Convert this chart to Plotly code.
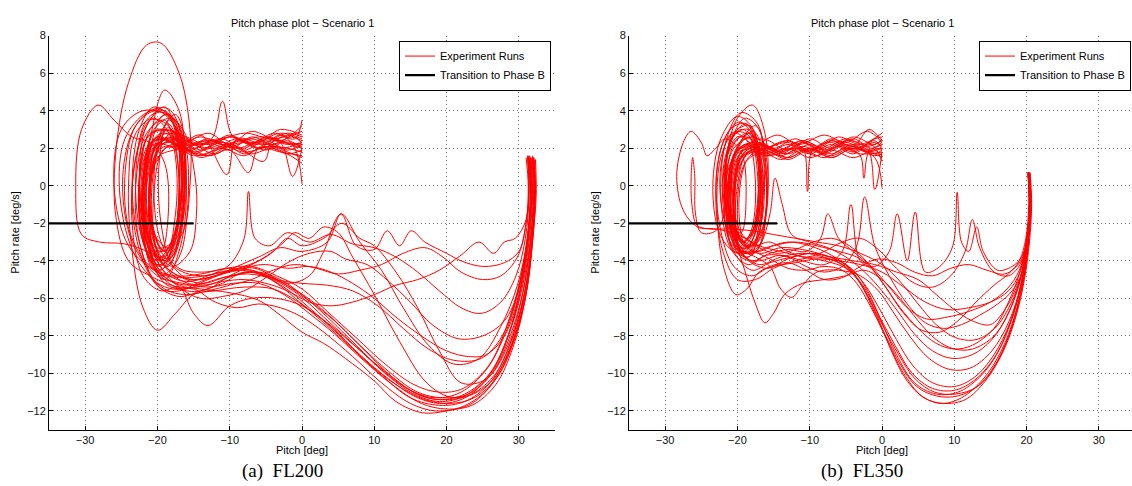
import plotly.graph_objects as go

# ---------------- data: FL200 experiment runs (pitch [deg], pitch rate [deg/s]) ----------------
fl200_run01 = [(32.3,1.4),(32.4,-0.5),(32.0,-2.5),(31.1,-5.5),(29.5,-8.0),(27,-10.2),(23.5,-11.6),(20,-12.0),(16.7,-12.1),(13,-11.5),(10,-10.4),(6,-9.2),(3,-8.4),(0,-7.8),(-3,-6.9),(-6,-6.1),(-10,-5.7),(-14,-5.5),(-17,-5.3),(-20,-4.5),(-22,-2),(-22,1),(-20,3),(-17.5,2.5),(-17,0),(-18,-3),(-20.5,-4),(-22.5,-1.5),(-21.5,2),(-18.5,2.8),(-15,2.2),(-12,2.0),(-9,2.5),(-6,2.0),(-3,2.3),(0,2.1)]
fl200_run02 = [(31.9,1.6),(32.1,0),(31.7,-2.5),(30.7,-5),(29,-7.5),(26.5,-9.8),(23,-11.2),(19.5,-11.6),(16,-11.3),(12,-10.3),(8,-9.0),(4,-7.5),(0,-6.3),(-3.5,-5.2),(-7,-4.5),(-10,-4.6),(-13,-5.0),(-16,-5.5),(-19,-5.2),(-21.5,-3),(-22.5,0),(-21,3),(-18.5,3.8),(-16.5,2),(-16.5,-1.5),(-18,-4),(-20.5,-4.5),(-22,-1.5),(-21,1.8),(-18.5,2.5),(-16,1.8),(-13,2.3),(-10,1.9),(-7,2.6),(-4,2.2),(-1.5,2.6),(0,2.4)]
fl200_run03 = [(31.6,1.5),(31.8,-0.5),(31.3,-3),(30.2,-5.5),(28.5,-8),(26,-10),(22.5,-11.2),(19,-11.5),(15.5,-11.1),(11.5,-10),(7.5,-8.5),(3.5,-7),(0,-5.8),(-3,-5),(-6,-4.6),(-9.5,-4.8),(-13,-5.3),(-17,-5.4),(-21,-4.8),(-24,-4),(-25.8,-1.5),(-25.7,2),(-24,5.5),(-21.5,7.5),(-19.5,7.6),(-17,6),(-15.5,3),(-15.5,0),(-16.5,-2.5),(-19,-3.5),(-21,-1.5),(-20.5,1.5),(-18,2.8),(-14,2.2),(-10,2.6),(-6,2.2),(-2,2.8),(0,2.6)]
fl200_run04 = [(32.0,1.5),(32.2,-0.5),(31.8,-3),(30.9,-5.5),(29.2,-8),(26.8,-10),(23.5,-11.1),(20,-11.4),(16.5,-11.2),(12.5,-10.2),(8.5,-8.7),(4.5,-7.2),(0.5,-6),(-3,-5.1),(-6.5,-4.6),(-10,-4.8),(-14,-5.2),(-18,-4.6),(-21,-3.6),(-24.5,-3.1),(-28,-3.0),(-30.5,-2.6),(-31.3,0),(-30.5,3),(-28.2,4.3),(-26,3.5),(-23.5,2.6),(-21,2.3),(-19,1.2),(-18.5,-1.5),(-19.5,-3.5),(-21.5,-2.5),(-22,0.5),(-20,2.6),(-17,2.1),(-13,2.4),(-9,2.0),(-5,2.5),(-2,2.2),(0,2.3)]
fl200_run05 = [(31.4,1.6),(31.6,-0.5),(31.1,-3),(30,-5.5),(28.2,-7.8),(25.5,-9.8),(22,-11),(18.5,-11.3),(15,-10.9),(11,-9.8),(7,-8.4),(3,-7),(-0.5,-5.8),(-4,-5),(-7.5,-4.7),(-11,-4.9),(-15,-5.3),(-18.5,-5),(-21,-3.5),(-22,-0.5),(-21,2.5),(-19,5.1),(-17,4),(-16.2,1),(-16.8,-2),(-18.5,-4.3),(-20.5,-3.5),(-21.2,-0.5),(-20,2.2),(-17.5,2.5),(-14,1.9),(-11,2.2),(-8,2.0),(-5,2.6),(-2,2.3),(0,2.2)]
fl200_run06 = [(32.1,1.3),(32.2,-1),(31.7,-3.5),(30.6,-6),(28.7,-8.5),(26,-10.5),(22.5,-11.5),(19,-11.7),(15,-11.3),(11,-10.1),(7,-8.7),(3,-7.3),(-0.5,-6.2),(-4,-5.5),(-8,-5.4),(-12,-5.6),(-15,-5.8),(-17.5,-6.8),(-20,-7.7),(-22,-6.5),(-23.5,-3.5),(-24,0),(-23,2.8),(-20.5,3.6),(-18,2.5),(-17,0),(-17.8,-3),(-19.5,-4.5),(-21.5,-3),(-22,0.5),(-20.5,2.4),(-17,2.2),(-14,1.6),(-11,2.1),(-8,1.8),(-4,2.1),(0,1.8)]
fl200_run07 = [(31.7,1.5),(31.9,-0.5),(31.4,-3),(30.3,-5.5),(28.5,-8),(26,-10),(22.5,-11.1),(19,-11.4),(15.5,-11),(11.5,-9.9),(7.5,-8.6),(3.5,-7.3),(0,-6.4),(-3.5,-6),(-7,-6),(-10,-6.4),(-13,-7.45),(-15,-6.8),(-17,-5.4),(-19.5,-5.6),(-22,-4.8),(-23.5,-2),(-23,1.5),(-21,3.5),(-18.5,3.2),(-17,0.5),(-17.5,-2.5),(-19.5,-4),(-21.5,-2),(-21,1.5),(-18.5,2.6),(-15,1.7),(-12,2.3),(-8,2.8),(-4,2.5),(0,2.9)]
fl200_run08 = [(31.0,1.5),(31.3,0),(31,-2),(30,-3.5),(28,-4.1),(25,-4.3),(22,-4.0),(20,-3.6),(17,-3.0),(15.1,-2.4),(13.5,-3.2),(11.8,-2.4),(10,-3.4),(7.5,-3.2),(5.4,-1.5),(3.5,-3),(0,-3.5),(-3,-3.3),(-6,-3.8),(-9,-4.3),(-12,-4.8),(-15,-5),(-18,-4.6),(-21,-3),(-22,0),(-20.5,3),(-18,3.6),(-16.5,1.5),(-17,-1.5),(-19,-3.5),(-21,-2),(-20.5,1),(-18,2.2),(-15,1.6),(-12,1.9),(-8,2.3),(-5,1.9),(-2,2.4),(0,2.0)]
fl200_run09 = [(31.2,1.6),(31.4,0),(31.0,-2),(29.8,-3.8),(27.5,-4.8),(25,-5.0),(22,-4.6),(19.5,-3.8),(17,-3.3),(14,-3.6),(11,-4.2),(8,-4.5),(5,-4.7),(2,-4.4),(-1,-4.2),(-4,-4.5),(-7,-5),(-10,-5.3),(-13,-5.6),(-16,-5.8),(-19,-5.5),(-23,-3.8),(-25.2,-0.5),(-24.5,2.5),(-21.5,3.9),(-18.5,4.1),(-16.5,2.5),(-16.2,-0.5),(-17.5,-3.5),(-20,-4.2),(-21.5,-1.5),(-20.5,1.8),(-17.5,2.4),(-14,1.5),(-11,2.0),(-8,1.6),(-5,2.2),(-2,1.8),(0,1.5)]
fl200_run10 = [(31.5,1.5),(31.7,-0.5),(31.2,-3),(30,-5.5),(28,-7.2),(25,-8.0),(21.6,-8.15),(18,-7.4),(15,-6.2),(12,-5.1),(9,-4.2),(6,-3.9),(4,-3.5),(1,-3.6),(-2,-4.1),(-5,-4.9),(-8,-5.6),(-11,-5.9),(-14,-6),(-17,-5.4),(-20,-4),(-21.5,-1),(-21,2),(-19,3.8),(-17,3.2),(-16,0.5),(-17,-2.5),(-19.5,-3.8),(-21,-1.5),(-20,1.5),(-17,2.0),(-13,2.8),(-10,2.2),(-7,2.9),(-3,2.4),(0,3.2)]
fl200_run11 = [(31.3,1.5),(31.6,-0.5),(31.2,-3),(30,-5.8),(28,-8),(25.5,-9),(23,-9.1),(20,-8.8),(16.5,-8),(13,-7),(10,-6),(7,-5.2),(4,-4.6),(1,-4.3),(-2,-4.4),(-5,-4.2),(-7,-4.3),(-10,-4.8),(-13,-5.5),(-16,-5.6),(-19,-5),(-22,-3),(-23,0.5),(-21.5,3.5),(-19,4),(-17,2),(-16.8,-1),(-18.5,-3.8),(-21,-3.8),(-22,-0.5),(-20.5,2.2),(-17.5,2.1),(-14,2.6),(-11,2.2),(-7,2.5),(-3,2.0),(0,2.3)]
fl200_run12 = [(32,1.5),(32.2,-0.5),(31.8,-3),(30.8,-6),(29,-8.5),(26.5,-10.3),(23,-11.2),(20,-11.2),(17,-10.4),(13.5,-8.3),(10,-5.8),(7,-3.8),(5,-2.5),(3,-2.2),(1,-2.8),(-1,-2.5),(-2.5,-3),(-5,-3.8),(-8,-4.3),(-11,-4.6),(-14,-4.8),(-17,-4.5),(-19.5,-3.5),(-21,-1),(-20.5,2),(-18.5,3.3),(-16.8,1.5),(-17,-1.5),(-18.5,-3.3),(-20.5,-2.5),(-21,0.5),(-19,2.3),(-16,2.4),(-12,1.7),(-9,2.4),(-6,2.0),(-3,2.7),(-1,2.0),(0,0.1)]
fl200_run13 = [(31.8,1.5),(32,-0.5),(31.6,-3),(30.5,-5.8),(28.5,-8.5),(25.5,-10.3),(22,-10.5),(19,-8.8),(16,-6.5),(13,-4.6),(10,-3.2),(8,-2.8),(5.5,-2),(3,-2.8),(0,-3.2),(-2,-2.8),(-4,-3.5),(-7.5,-4.3),(-10.5,-4.6),(-14,-5.1),(-17,-5.6),(-19.5,-5.5),(-22,-4),(-23.5,-1),(-22.5,2.2),(-20,3.9),(-17.5,3.5),(-16.5,1),(-17.2,-2),(-19,-4),(-21,-3),(-21.8,0),(-20,2.6),(-16.5,2.0),(-13,2.5),(-10,2.1),(-6,2.6),(-3,2.3),(-1.3,0.5),(0,2.0)]
fl200_run14 = [(31.3,1.6),(31.4,0),(31,-1.8),(29.5,-2.8),(28,-3),(26.5,-3.6),(24.5,-3.0),(22,-3.7),(19,-4.5),(16,-5),(13,-5.3),(10,-5.8),(7,-6.2),(4,-6.4),(1,-6.2),(-2,-5.6),(-5,-5.2),(-8,-5.0),(-11,-5.1),(-14,-5.3),(-17,-5),(-19.5,-4),(-20.8,-1.5),(-20.2,1.5),(-18.5,3.1),(-17,2.2),(-16.8,-0.5),(-18,-3),(-20,-3.3),(-20.5,-0.5),(-19,2),(-16,1.9),(-12.5,2.5),(-11,4.5),(-9.5,2.6),(-6,2.3),(-3,3.0),(0,2.7)]
fl200_run15 = [(32.2,1.4),(32.3,-0.5),(31.9,-3),(31,-5.8),(29.3,-8.3),(27,-10.2),(23.8,-11.3),(20.5,-11.6),(17,-11.4),(13,-10.6),(9,-9.4),(5,-7.9),(1,-6.5),(-2.5,-5.4),(-6,-4.7),(-9,-4.5),(-12,-4.8),(-15.5,-5),(-18,-4.2),(-19.5,-2),(-19.8,1),(-18.5,3.5),(-17,2.8),(-16,0),(-16.8,-3.2),(-19,-5),(-21.5,-3.5),(-22.5,-0.5),(-21.5,2.5),(-19,3),(-16,2.6),(-13,2.2),(-10,2.7),(-7,2.2),(-4,2.8),(-1,2.5),(0,3.5)]
fl200_run16 = [(31.9,1.5),(32.1,-0.5),(31.6,-3),(30.6,-5.6),(28.8,-8),(26.3,-10),(23,-11.1),(19.5,-11.3),(16,-11),(12,-9.9),(8,-8.5),(4,-7),(0.5,-5.9),(-3,-5.1),(-6.5,-4.4),(-10,-4.5),(-13.5,-4.8),(-17,-4.9),(-20,-4.6),(-24,-3.2),(-26,0),(-25,3),(-22,4),(-18.5,3.7),(-16.5,1.5),(-16.6,-1.5),(-18,-3.8),(-20.5,-4.2),(-22.5,-1.5),(-21.8,1.5),(-19.5,2.8),(-16.5,2.3),(-13,1.6),(-10,1.9),(-7.4,0.7),(-6,2.0),(-3,1.8),(0,1.6)]
fl200_run17 = [(31.6,1.5),(31.8,-0.5),(31.2,-2.8),(29.8,-5.3),(27.5,-7.5),(24.5,-9.2),(21,-9.5),(17.5,-8.5),(14,-6.5),(11,-4.5),(8,-3.0),(5.4,-1.5),(3,-3.5),(1,-4.8),(-2,-5.2),(-5,-4.8),(-8,-4.6),(-11,-5.2),(-14,-5.6),(-17,-5.9),(-20,-5.3),(-22.5,-3),(-23.5,0),(-22.5,3),(-20.5,4.2),(-18,3.5),(-16.5,1),(-17,-2),(-19,-4),(-21.5,-3),(-22,0),(-20,2.5),(-17,2.2),(-14,2.7),(-10.4,0.6),(-9,2.5),(-5,2.2),(-2,2.7),(0,2.3)]
fl200_run18 = [(32.1,1.5),(32.2,-0.5),(31.8,-3.2),(30.9,-6),(29.2,-8.6),(26.8,-10.6),(23.5,-11.7),(20,-11.9),(16.5,-11.6),(12.5,-10.6),(8.5,-9.3),(4.5,-7.9),(1,-6.8),(-2.5,-5.8),(-6,-5.2),(-9.5,-5.2),(-13,-5.4),(-16.5,-5.2),(-20,-4.8),(-23.5,-3),(-24.8,0.5),(-23,3.2),(-20,4),(-16.8,2.6),(-16.3,-0.5),(-17.5,-3.3),(-19.8,-4.3),(-21.5,-2.5),(-21.3,0.5),(-19.5,2.5),(-16.5,2.0),(-13,2.4),(-9,2.1),(-5.3,1.3),(-4,2.4),(-1,2.1),(0,2.0)]
fl200_run19 = [(31.5,1.6),(31.7,0),(31.3,-2.5),(30.2,-5),(28.3,-7.5),(25.8,-9.6),(22.3,-10.8),(19,-11),(15.5,-10.6),(11.5,-9.5),(7.5,-8.1),(3.5,-6.7),(0,-5.5),(-3.5,-4.8),(-7,-4.3),(-10.5,-4.4),(-14,-4.7),(-17.5,-4.8),(-21,-4.3),(-23.8,-2.5),(-24.5,0.5),(-23,3.2),(-20,4.1),(-16.5,3),(-14.8,0.5),(-14.6,-1.5),(-15.5,-3.5),(-18,-4.3),(-20.5,-3),(-21,0),(-19.5,2.3),(-17,2.6),(-13.5,2.0),(-10,2.6),(-6.5,2.3),(-3,2.8),(0,2.5)]
fl200_run20 = [(31.2,1.5),(31.4,-0.5),(30.9,-2.8),(29.6,-4.8),(27.5,-6.2),(24.8,-6.8),(22,-6.5),(19,-5.6),(16,-4.6),(13,-3.8),(10,-3.3),(7,-3.1),(4,-2.6),(1,-3.0),(-2,-2.5),(-4.5,-3.2),(-6.5,-2.8),(-7.4,-0.3),(-8,-2.8),(-10,-4.2),(-13,-4.8),(-16,-5.1),(-19,-4.6),(-21.5,-2.5),(-22.5,0.5),(-21.5,3.2),(-19,4.2),(-17.2,2.5),(-17,-0.5),(-18.2,-3.2),(-20.2,-3.5),(-21,-0.5),(-19.5,2),(-16.5,2.0),(-13,1.6),(-10,2.1),(-7,1.7),(-4,2.0),(0,1.2)]
fl200_run21 = [(31.4,1.5),(31.6,-0.5),(31.1,-3),(29.8,-5.7),(27.7,-8),(24.8,-9.2),(21,-9.3),(17.5,-8.7),(14,-7.6),(10.5,-6.4),(7,-5.6),(3.5,-5.3),(0,-5.2),(-3.5,-5.0),(-7,-4.5),(-10,-4.4),(-13.5,-4.6),(-17,-4.4),(-19.5,-3),(-20.5,0),(-19.5,2.8),(-17.5,3.8),(-16,2),(-15.8,-1),(-17,-3.8),(-19.5,-4.8),(-22,-3),(-22.5,0.5),(-21,2.8),(-18,2.9),(-15,2.2),(-11,2.5),(-8,1.9),(-5,2.4),(-2,1.9),(0,2.2)]
fl200_run22 = [(32.0,1.4),(32.1,-0.8),(31.6,-3.5),(30.4,-6.5),(28.4,-9),(25.5,-10.9),(22,-11.8),(18.5,-12),(15,-11.6),(11,-10.5),(7,-9.1),(3,-7.8),(0,-7.0),(-3,-6.5),(-6,-6.3),(-9,-6.5),(-12,-6.2),(-15,-5.5),(-18,-5.5),(-20.5,-5),(-22.5,-3),(-23,0),(-21.5,2.8),(-19,3.5),(-17.5,1.5),(-17.5,-1.5),(-19,-3.8),(-21,-3.5),(-21.8,-0.5),(-20.5,2),(-18,2.3),(-15,1.8),(-11,2.3),(-8,1.7),(-5,2.1),(-2,1.7),(0,1.9)]

# ---------------- data: FL350 experiment runs ----------------
fl350_run01 = [(20.4,0.7),(20.6,-1),(20.3,-3),(19.6,-5),(18.3,-7),(16.5,-8.8),(14,-10.3),(11,-11.3),(8.2,-11.6),(5.5,-11.2),(3,-10),(1,-8.5),(-1,-6.8),(-3,-5.2),(-5,-4.3),(-8,-3.8),(-11,-3.6),(-14,-3.8),(-17,-4.2),(-19.5,-3.5),(-21,-1),(-20.5,1.5),(-18.5,2.6),(-16.8,1.5),(-16.5,-1),(-17.5,-3),(-19.5,-3.3),(-20.3,-1),(-19.5,1.5),(-17,2.0),(-14,1.6),(-11,2.1),(-8,1.7),(-5,2.2),(-2,1.8),(0,2.0)]
fl350_run02 = [(20.3,0.7),(20.5,-1),(20.2,-3),(19.4,-5),(18,-7),(16,-8.9),(13.5,-10.2),(10.5,-11.0),(7.5,-11.1),(4.5,-10.5),(2,-9),(0,-7.3),(-2,-5.6),(-4,-4.5),(-6.5,-3.9),(-9.5,-3.6),(-12.5,-3.8),(-15.5,-4.1),(-18,-4.5),(-20.5,-3.5),(-22,-1),(-21.5,1.8),(-19.5,3),(-17.5,2.4),(-16.8,0),(-17.8,-2.8),(-19.8,-3.5),(-21,-1.2),(-20,1.5),(-17.5,2.2),(-14.5,1.8),(-11,2.4),(-7.5,1.9),(-4,2.5),(-1.5,2.0),(0,2.2)]
fl350_run03 = [(20.2,0.6),(20.4,-1.2),(20,-3.3),(19.2,-5.3),(17.7,-7.3),(15.5,-9),(12.8,-10.2),(10,-10.7),(7,-10.5),(4.3,-9.6),(2,-8.2),(0,-6.8),(-2.5,-5.2),(-5,-4.2),(-8,-3.7),(-11,-3.4),(-14,-3.3),(-17,-3.6),(-19.5,-3),(-21,-0.5),(-20,2),(-17.5,3.2),(-16,1.5),(-16,-1.5),(-17.5,-3.5),(-19.5,-3.5),(-20.5,-1),(-19,1.5),(-16.5,1.9),(-13,1.5),(-10,2.0),(-7,1.6),(-4,2.1),(-1,1.7),(0,1.9)]
fl350_run04 = [(20.3,0.7),(20.5,-1),(20.1,-3.2),(19.3,-5.2),(17.9,-7.2),(15.8,-9),(13,-10.3),(10,-10.9),(7,-10.8),(4.2,-10),(1.8,-8.5),(-0.3,-7),(-2.5,-5.4),(-5,-4.4),(-8,-4),(-11,-3.8),(-14,-3.5),(-17,-3.2),(-20,-2.6),(-23,-2.3),(-25.5,-2.2),(-27.5,-1.3),(-28.4,0.5),(-27.5,2.3),(-26.4,2.9),(-25,2.3),(-24.2,1.6),(-23,2.0),(-21.7,2.5),(-19.5,1.8),(-18.8,-0.5),(-19.5,-2.5),(-21,-2),(-21.5,0.5),(-19.5,2),(-16,2.0),(-13,2.4),(-10,1.9),(-7,2.4),(-4,2.0),(-1,2.3),(0,2.1)]
fl350_run05 = [(20.2,0.7),(20.4,-1),(20,-3),(19.2,-4.8),(17.8,-6.3),(15.6,-7.6),(13,-8.2),(10.2,-8.1),(7.5,-7.4),(5,-6.3),(2.5,-5.1),(0,-4.2),(-3,-3.6),(-6,-3.2),(-9,-3.0),(-12,-2.8),(-15,-2.6),(-18,-2.4),(-21,-2.3),(-24,-2.3),(-25.6,-2.1),(-26.3,-1),(-26.4,0.5),(-26.2,1.5),(-25.9,0.5),(-25.8,-1.5),(-25,-2.5),(-23,-2.4),(-21.5,-1),(-21.5,1.5),(-19.5,2.6),(-17.5,1.8),(-17.2,-0.8),(-18.5,-2.8),(-20.3,-2.3),(-20.5,0.3),(-19,2),(-16,1.6),(-13,2.0),(-10,1.5),(-7,1.9),(-4,1.5),(-1,1.9),(0,1.6)]
fl350_run06 = [(20.4,0.7),(20.6,-1),(20.2,-3),(19.5,-4.5),(18.5,-5.5),(17,-6.6),(15,-7.4),(12.5,-7.2),(10,-6.6),(7.5,-5.8),(5,-5),(2,-4.6),(-1,-4.2),(-4,-4),(-7,-3.8),(-10,-3.6),(-13,-3.9),(-16,-4.4),(-19,-3.8),(-21.5,-1.5),(-21.5,1.5),(-20,3.6),(-17.9,4.3),(-16.2,2.8),(-15.8,0),(-16.8,-2.5),(-18.8,-3.2),(-19.8,-1),(-18.5,1.5),(-16,2.0),(-13,2.4),(-10,1.9),(-7,2.5),(-4,2.1),(-1.8,3.0),(0,2.4)]
fl350_run07 = [(20.3,0.7),(20.5,-1),(20.1,-3),(19.3,-4.8),(17.8,-6.5),(15.5,-8),(12.5,-8.7),(10,-8.7),(7.5,-8.2),(5,-7.2),(2.5,-6),(0,-5),(-2.5,-4.5),(-5,-4.8),(-8,-5),(-11,-5.2),(-13.5,-5.8),(-15,-6.8),(-16.2,-7.3),(-17.5,-6.3),(-19,-4.5),(-20.5,-2.5),(-21.5,0),(-20.5,2.2),(-18.5,2.8),(-17,1.2),(-17,-1.5),(-18.5,-3.2),(-20,-2.5),(-20,0),(-18.5,1.8),(-15.5,1.6),(-12,2.0),(-9,1.6),(-6,2.1),(-3,1.7),(0,1.8)]
fl350_run08 = [(20.2,0.7),(20.4,-1),(20,-3),(19.1,-4.6),(17.5,-5.6),(15,-6.2),(12,-6.5),(9,-6.6),(6,-6.2),(3,-5.4),(0,-4.6),(-3,-4.2),(-6,-4.0),(-9,-3.9),(-12,-4.1),(-15,-4.3),(-17,-4.6),(-18.7,-5.5),(-20.2,-5.8),(-21.8,-4.5),(-22.8,-1.5),(-22.3,1.5),(-20.5,2.8),(-18.5,2.3),(-17.5,0),(-18.2,-2.5),(-20,-3.3),(-21.2,-1),(-20.2,1.8),(-17,2.2),(-14,1.7),(-11,2.3),(-8,1.8),(-5,2.3),(-2,1.9),(0,2.3)]
fl350_run09 = [(20.3,0.6),(20.5,-1.2),(20.1,-3.3),(19.2,-5.3),(17.6,-7.2),(15.2,-8.8),(12.3,-9.7),(9.5,-9.8),(6.5,-9.2),(3.8,-8),(1.5,-6.7),(-0.5,-5.6),(-3,-4.8),(-6,-4.5),(-9,-4.6),(-11,-5.3),(-12.5,-5.95),(-14,-5.5),(-15.5,-4.3),(-17.5,-3.8),(-20,-3.3),(-22,-1.5),(-22.3,1),(-20.8,2.8),(-18.5,2.7),(-17.2,0.5),(-17.8,-2.3),(-19.5,-3),(-20.5,-0.8),(-19.2,1.6),(-16,2.0),(-13,1.5),(-10,2.0),(-7,1.5),(-4,2.0),(-1,1.5),(0,-0.1)]
fl350_run10 = [(20.3,0.7),(20.5,-1),(20,-3),(19,-4.7),(17.5,-6.2),(15.5,-7.6),(12.5,-8.5),(10,-8.7),(7.5,-8.4),(5,-7.6),(2.5,-6.5),(0.5,-5.4),(-1.5,-4.4),(-3.5,-3.8),(-6,-3.5),(-9,-3.2),(-12,-3.0),(-15,-3.2),(-17.5,-3.5),(-20,-2.5),(-21.5,0),(-20.8,2.5),(-18.8,3.3),(-17,2),(-16.5,-0.8),(-17.5,-3),(-19.5,-3.3),(-20.5,-1),(-19.5,1.6),(-16.5,2.2),(-13.5,1.7),(-11,2.0),(-10.3,-0.3),(-9.6,1.9),(-7,2.3),(-4,1.8),(-1,2.4),(0,1.9)]
fl350_run11 = [(20.2,0.7),(20.4,-1),(20,-3),(19,-4.5),(17.3,-5.5),(15,-6.2),(12,-6.7),(9,-7.0),(6.2,-7.1),(3.5,-6.5),(1,-5.4),(-1.5,-4.3),(-4,-3.5),(-6,-2.8),(-7.5,-1.5),(-8.5,-2.8),(-10.5,-3.5),(-13,-3.4),(-15.5,-3.6),(-18,-4),(-20,-3.2),(-21.3,-0.8),(-20.5,1.7),(-18.2,2.8),(-16.5,1.5),(-16,-1),(-17,-3.3),(-19,-3.8),(-20.5,-1.8),(-19.8,1),(-17.5,2.0),(-14,1.4),(-11,1.9),(-8,1.5),(-5,2.0),(-3,1.6),(-2.5,0.4),(-1.8,1.8),(0,2.0)]
fl350_run12 = [(20.4,0.7),(20.5,-1),(20.1,-2.8),(19.3,-3.8),(18,-4.3),(16,-4.5),(14,-3.5),(13.1,-2.2),(12,-3.5),(11,-3),(10.4,-0.35),(9.8,-3.2),(8,-4.3),(6,-4.6),(4.6,-1.4),(3.5,-4),(2.1,-1.5),(1,-3.5),(-1,-4.3),(-3,-4.0),(-4.3,-1.0),(-5.5,-3.5),(-8,-4.2),(-11,-4.0),(-14,-3.7),(-17,-4.0),(-19.5,-3.8),(-21.5,-1.8),(-21.8,1),(-20,2.6),(-18,2.4),(-17,0.2),(-17.8,-2.5),(-19.5,-3.0),(-20.5,-0.8),(-19.5,1.5),(-16.5,1.9),(-13,2.3),(-10,1.8),(-7,2.4),(-4,1.9),(-1,2.5),(0,2.6)]
fl350_run13 = [(20.3,0.7),(20.4,-1),(20,-2.8),(19.2,-4),(17,-4.7),(14.5,-4.5),(12,-4.2),(9.5,-4.4),(7,-4.8),(4.5,-4.6),(2,-4.1),(-0.5,-3.9),(-3,-4.3),(-5.5,-4.9),(-8,-5.0),(-10.5,-4.5),(-13,-4.1),(-15.5,-4.3),(-18,-4.8),(-20.5,-4.3),(-22.5,-2),(-22.8,1),(-21,3),(-18.8,3.3),(-17,1.5),(-16.8,-1.5),(-18.3,-3.5),(-20.5,-3.5),(-21.5,-1),(-20.2,1.8),(-17.5,2.3),(-14.5,1.9),(-11,2.4),(-8,2.0),(-5,2.5),(-2,2.1),(0,2.4)]
fl350_run14 = [(20.5,0.7),(20.7,-1),(20.4,-3),(19.7,-5),(18.5,-7),(16.8,-8.8),(14.3,-10.4),(11.5,-11.4),(8.5,-11.6),(5.8,-11.3),(3.3,-10.3),(1.3,-8.8),(-0.5,-7.1),(-2.5,-5.5),(-4.5,-4.4),(-7,-3.7),(-10,-3.2),(-13,-3.0),(-16,-3.3),(-18.5,-3.6),(-20.5,-2.8),(-21.8,-0.5),(-21,2.2),(-19,3.6),(-17,3),(-16,0.5),(-16.5,-2.3),(-18.5,-3.6),(-20.5,-2.5),(-20.8,0),(-19.2,2),(-16.5,2.5),(-13,1.9),(-10,2.5),(-7,2.0),(-4,2.6),(-1,2.2),(0,2.5)]
fl350_run15 = [(20.3,0.7),(20.5,-1.2),(20.1,-3.4),(19.3,-5.6),(18,-7.5),(16,-9.3),(13.5,-10.6),(10.5,-11.2),(7.5,-11.2),(4.8,-10.7),(2.5,-9.5),(0.5,-8),(-1.5,-6.5),(-3.5,-5.2),(-5.5,-4.5),(-8,-4.3),(-10.5,-4.5),(-13,-4.4),(-15.5,-3.9),(-18,-3.5),(-20.5,-3.5),(-22.5,-2.5),(-23.4,0),(-22.3,2.5),(-20,3.7),(-17.8,3),(-16.8,0.8),(-17.2,-2),(-19,-3.5),(-21,-3),(-21.8,-0.5),(-20.5,2),(-17.8,2.6),(-15,2.0),(-12,2.5),(-9,2.0),(-6,2.6),(-3,2.2),(0,2.8)]
fl350_run16 = [(20.2,0.7),(20.4,-1),(20,-3.1),(19.1,-5),(17.5,-6.8),(15.2,-8.2),(12.5,-9),(9.7,-9.2),(7,-8.8),(4.5,-7.9),(2.2,-6.7),(0,-5.6),(-2.4,-4.6),(-5,-3.8),(-7.5,-3.3),(-10,-3.0),(-12.5,-2.6),(-13.8,-1),(-14.8,0.4),(-15.5,-1.5),(-17,-3.2),(-19,-3.6),(-21,-2.2),(-21.8,0.5),(-20.5,2.8),(-18.3,3.2),(-16.8,1.2),(-16.8,-1.8),(-18.2,-3.3),(-20,-2.8),(-20.5,-0.3),(-19,1.8),(-16,2.1),(-13,1.7),(-10,2.2),(-7,1.7),(-4,2.2),(-1,1.7),(0,1.5)]
fl350_run17 = [(20.4,0.7),(20.6,-1),(20.2,-3),(19.4,-4.6),(18,-5.6),(16,-6.3),(13.5,-6.9),(11,-7.4),(8.5,-7.6),(6,-7.3),(3.5,-6.3),(1,-4.8),(-1,-3.2),(-2.4,-0.6),(-3.5,-3.2),(-5.5,-4.3),(-8,-4.6),(-10.5,-4.3),(-13,-3.8),(-16,-3.7),(-18.5,-4.2),(-21,-3.3),(-22.3,-0.5),(-21.5,2.5),(-19.5,3.9),(-17.2,3.3),(-16.3,1),(-16.7,-2),(-18.5,-3.8),(-20.8,-3.2),(-21.3,-0.3),(-19.8,2),(-17,2.3),(-14,1.8),(-11,2.3),(-8,1.9),(-5,2.4),(-2,2.0),(-1,-0.2),(0,1.8)]
fl350_run18 = [(20.3,0.7),(20.5,-1),(20.1,-3.2),(19.3,-5.4),(17.9,-7.6),(15.8,-9.5),(13.2,-10.7),(10.2,-11.1),(7.3,-11),(4.6,-10.3),(2.3,-9),(0.3,-7.6),(-1.8,-6),(-3.8,-4.8),(-6,-4.1),(-9,-3.8),(-12,-4),(-15,-4.4),(-17.5,-5),(-20,-5),(-22,-3.5),(-23,-0.5),(-22,2.3),(-19.8,3.4),(-17.6,2.5),(-17,0),(-18,-2.7),(-20,-3.4),(-21.3,-1.3),(-20.3,1.6),(-17.5,2.1),(-14.5,2.7),(-11.5,2.2),(-8,2.7),(-5,2.3),(-2,2.9),(0,2.3)]
fl350_run19 = [(20.2,0.7),(20.3,-1),(19.9,-2.8),(19,-4),(17.5,-4.7),(15.5,-5.3),(13,-6.2),(10.5,-7.2),(8,-7.8),(5.5,-7.7),(3,-6.8),(0.5,-5.4),(-2,-4.1),(-4.5,-3.2),(-7,-2.8),(-9.5,-3.0),(-12,-3.4),(-14.5,-3.6),(-17,-3.3),(-19.5,-2.5),(-20.8,-0.2),(-20,2.1),(-17.8,2.9),(-16.2,1.3),(-16,-1.3),(-17.2,-3),(-19.2,-3.2),(-20,-1),(-18.8,1.3),(-16,1.8),(-13,1.4),(-10,1.9),(-7,1.5),(-4,2.0),(-1,1.6),(0,1.7)]
fl350_run20 = [(20.4,0.7),(20.5,-1),(20.1,-2.9),(19.1,-4.2),(17.5,-4.8),(15.5,-4.6),(13.5,-3.3),(12.5,-1.8),(11.5,-3.5),(9.5,-4.8),(7,-5.4),(4.5,-5.2),(2,-4.4),(-0.5,-3.4),(-3,-2.8),(-5.5,-3.0),(-8,-3.5),(-10.5,-3.8),(-13,-3.5),(-15.5,-3.0),(-18,-3.2),(-20.5,-2.3),(-21.7,0.5),(-20.7,2.6),(-18.5,3.0),(-17,1),(-17.3,-1.7),(-19,-3),(-20.8,-2),(-20.8,0.8),(-19,2.2),(-16,1.7),(-13,2.2),(-10,1.7),(-7,2.2),(-4,1.7),(-1.5,2.2),(0,1.3)]

# ---------------- data: transition to phase B ----------------
fl200_transition_x = [-35, -15]
fl200_transition_y = [-2, -2]
fl350_transition_x = [-35, -14.5]
fl350_transition_y = [-2, -2]

x_tick_values = [-30, -20, -10, 0, 10, 20, 30]
y_tick_values = [-12, -10, -8, -6, -4, -2, 0, 2, 4, 6, 8]
panel_title = "Pitch phase plot \u2212 Scenario 1"
x_axis_title = "Pitch [deg]"
y_axis_title = "Pitch rate [deg/s]"
captions = ["(a)  FL200", "(b)  FL350"]
legend_labels = ["Experiment Runs", "Transition to Phase B"]

fl200_runs = [fl200_run01, fl200_run02, fl200_run03, fl200_run04, fl200_run05, fl200_run06,
              fl200_run07, fl200_run08, fl200_run09, fl200_run10, fl200_run11, fl200_run12,
              fl200_run13, fl200_run14, fl200_run15, fl200_run16, fl200_run17, fl200_run18,
              fl200_run19, fl200_run20, fl200_run21, fl200_run22]
fl350_runs = [fl350_run01, fl350_run02, fl350_run03, fl350_run04, fl350_run05, fl350_run06,
              fl350_run07, fl350_run08, fl350_run09, fl350_run10, fl350_run11, fl350_run12,
              fl350_run13, fl350_run14, fl350_run15, fl350_run16, fl350_run17, fl350_run18,
              fl350_run19, fl350_run20]

# ---------------- figure ----------------
W, H = 1132, 486
FONT = "Liberation Sans, Arial, Helvetica, sans-serif"
RED = "#ff0000"

fig = go.Figure()

panels = [
    dict(runs=fl200_runs, tx=fl200_transition_x, ty=fl200_transition_y, xa="x", ya="y", legend="legend"),
    dict(runs=fl350_runs, tx=fl350_transition_x, ty=fl350_transition_y, xa="x2", ya="y2", legend="legend2"),
]
for p in panels:
    for i, run in enumerate(p["runs"]):
        fig.add_trace(go.Scatter(
            x=[pt[0] for pt in run], y=[pt[1] for pt in run],
            mode="lines", line=dict(color=RED, width=1, shape="spline", smoothing=1.0),
            name=legend_labels[0], showlegend=(i == 0), legendgroup="runs",
            xaxis=p["xa"], yaxis=p["ya"], legend=p["legend"], hoverinfo="skip"))
    fig.add_trace(go.Scatter(
        x=p["tx"], y=p["ty"], mode="lines", line=dict(color="black", width=2.2),
        name=legend_labels[1], showlegend=True, legendgroup="trans",
        xaxis=p["xa"], yaxis=p["ya"], legend=p["legend"], hoverinfo="skip"))

# pixel geometry
x1_left, x1_right = 49, 555
x2_left, x2_right = 629, 1132
y_top, y_bot = 30, 429
px_per_deg = (x1_right - x1_left) / 70.0
x2_max = -35 + (x2_right - x2_left) / px_per_deg

ydom = [1 - y_bot / H, 1 - y_top / H]
GRID = dict(showgrid=True, gridcolor="#6f6f6f", griddash="1px,3px", gridwidth=1, zeroline=False,
            showline=True, linecolor="black", linewidth=1, mirror=False,
            ticks="inside", ticklen=4, tickcolor="black",
            tickfont=dict(family=FONT, size=11, color="#111"), fixedrange=True)

fig.update_layout(
    width=W, height=H, margin=dict(l=0, r=0, t=0, b=0),
    paper_bgcolor="white", plot_bgcolor="white",
    xaxis=dict(GRID, domain=[x1_left / W, x1_right / W], range=[-35, 35], tickvals=x_tick_values, anchor="y"),
    yaxis=dict(GRID, domain=ydom, range=[-13, 8], tickvals=y_tick_values, anchor="x"),
    xaxis2=dict(GRID, domain=[x2_left / W, x2_right / W], range=[-35, x2_max], tickvals=x_tick_values, anchor="y2"),
    yaxis2=dict(GRID, domain=ydom, range=[-13, 8], tickvals=y_tick_values, anchor="x2"),
    showlegend=True,
)
leg_common = dict(bordercolor="black", borderwidth=1, bgcolor="white",
                  font=dict(family=FONT, size=11, color="black"),
                  xanchor="right", yanchor="top", tracegroupgap=0, itemwidth=30)
fig.update_layout(legend=dict(leg_common, x=551 / W, y=1 - 35 / H),
                  legend2=dict(leg_common, x=1131 / W, y=1 - 35 / H))

x1_center = (x1_left + x1_right) / 2
x2_center = x2_left + 35 * px_per_deg
ann = []
for cx, ylab_x in [(x1_center, 15), (x2_center, 595)]:
    ann.append(dict(text=panel_title, x=cx / W, y=1 - 17 / H, xref="paper", yref="paper",
                    showarrow=False, font=dict(family=FONT, size=11, color="black"),
                    xanchor="center", yanchor="middle"))
    ann.append(dict(text=x_axis_title, x=cx / W, y=1 - 450 / H, xref="paper", yref="paper",
                    showarrow=False, font=dict(family=FONT, size=11, color="black"),
                    xanchor="center", yanchor="middle"))
    ann.append(dict(text=y_axis_title, x=ylab_x / W, y=1 - (y_top + y_bot) / 2 / H,
                    xref="paper", yref="paper", textangle=-90, showarrow=False,
                    font=dict(family=FONT, size=11, color="black"),
                    xanchor="center", yanchor="middle"))
for cap, cap_x in zip(captions, [282, 862]):
    ann.append(dict(text=cap, x=cap_x / W, y=1 - 471 / H, xref="paper", yref="paper",
                    showarrow=False, font=dict(family="Liberation Serif, DejaVu Serif, serif", size=19, color="black"),
                    xanchor="center", yanchor="middle"))
fig.update_layout(annotations=ann)

fig.write_html("out.html")
